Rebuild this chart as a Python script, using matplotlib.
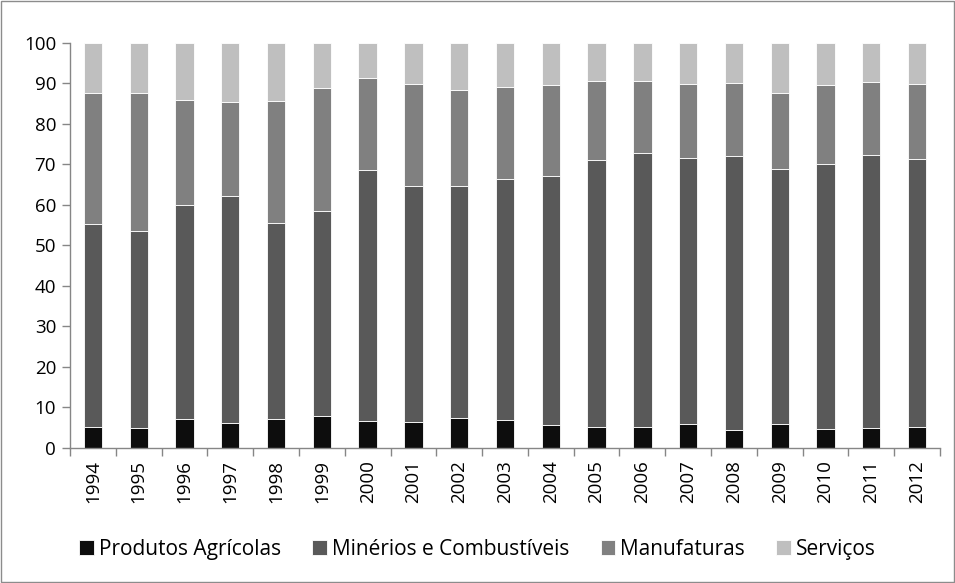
import matplotlib.pyplot as plt
import numpy as np
from matplotlib.patches import Rectangle

# Data (percent shares)
years = ['1994', '1995', '1996', '1997', '1998', '1999', '2000', '2001', '2002', '2003',
         '2004', '2005', '2006', '2007', '2008', '2009', '2010', '2011', '2012']
agricolas = [5.2, 5.0, 7.1, 6.2, 7.1, 8.0, 6.7, 6.5, 7.5, 6.9,
             5.7, 5.3, 5.2, 6.0, 4.5, 6.0, 4.7, 5.0, 5.3]
minerios = [50.1, 48.6, 52.9, 56.0, 48.5, 50.5, 61.9, 58.1, 57.3, 59.4,
            61.4, 65.7, 67.7, 65.7, 67.7, 63.0, 65.5, 67.4, 66.0]
manufaturas = [32.4, 34.1, 25.9, 23.2, 30.1, 30.4, 22.8, 25.2, 23.7, 22.8,
               22.5, 19.7, 17.8, 18.2, 18.0, 18.6, 19.4, 18.0, 18.5]
servicos = [12.3, 12.3, 14.1, 14.6, 14.3, 11.1, 8.6, 10.2, 11.5, 10.9,
            10.4, 9.3, 9.3, 10.1, 9.8, 12.4, 10.4, 9.6, 10.2]

series = [
    ('Produtos Agrícolas', agricolas, '#0d0d0d'),
    ('Minérios e Combustíveis', minerios, '#595959'),
    ('Manufaturas', manufaturas, '#808080'),
    ('Serviços', servicos, '#bfbfbf'),
]

plt.rcParams['font.family'] = ['Open Sans', 'DejaVu Sans']

fig = plt.figure(figsize=(9.55, 5.83), dpi=100)
ax = fig.add_axes([0.0733, 0.2316, 0.911, 0.6947])

x = np.arange(len(years))
bottom = np.zeros(len(years))
for name, vals, color in series:
    vals = np.array(vals)
    ax.bar(x, vals, width=0.4, bottom=bottom, color=color, label=name,
           edgecolor='white', linewidth=0.6)
    bottom += vals

ax.set_xlim(-0.5, len(years) - 0.5)
ax.set_ylim(0, 100)
ax.set_yticks(np.arange(0, 101, 10))
ax.set_xticks(x)
ax.set_xticklabels(years, rotation=90, fontsize=13.5)
ax.set_xticks(np.arange(-0.5, len(years), 1), minor=True)
ax.tick_params(axis='x', which='major', length=0, pad=9)
ax.tick_params(axis='x', which='minor', length=6, color='#868686', width=1)
ax.tick_params(axis='y', length=6, color='#868686', width=1, labelsize=13.5, pad=4)

for side in ['top', 'right']:
    ax.spines[side].set_visible(False)
for side in ['left', 'bottom']:
    ax.spines[side].set_color('#868686')
    ax.spines[side].set_linewidth(1)

fig.legend(loc='center', bbox_to_anchor=(0.5, 0.058), ncol=4, frameon=False,
           fontsize=15, handlelength=0.7, handleheight=0.7, handletextpad=0.25,
           columnspacing=1.5)

# chart border
fig.patches.append(Rectangle((0.001, 0.001), 0.998, 0.998, transform=fig.transFigure,
                             fill=False, edgecolor='#8c8c8c', linewidth=1))

fig.savefig('out.png', dpi=100)
